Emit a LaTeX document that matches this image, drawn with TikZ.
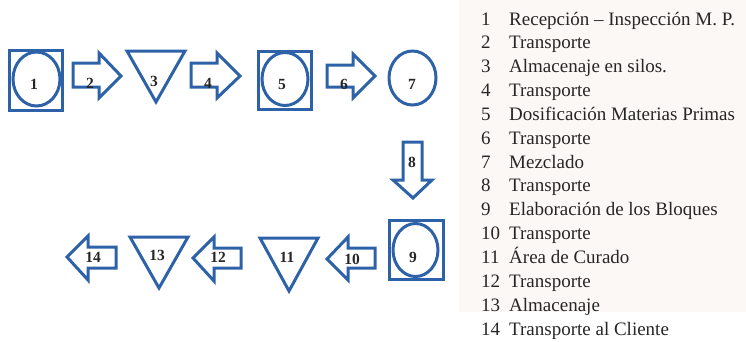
\documentclass[tikz,border=0pt]{standalone}
\usepackage{fontspec}
\setmainfont{Liberation Serif}
\definecolor{lineblue}{RGB}{46,98,168}
\definecolor{legendbg}{RGB}{252,248,245}
\tikzset{
  sym/.style={draw=lineblue, line width=3pt, line join=miter},
  lab/.style={font=\fontsize{15.5}{15.5}\selectfont\bfseries, inner sep=0pt, text=black!85},
  legnum/.style={anchor=base west, inner sep=0pt, font=\fontsize{19}{19}\selectfont, text=black!85},
  legtxt/.style={anchor=base west, inner sep=0pt, font=\fontsize{19}{19}\selectfont, text=black!85}
}
\begin{document}
\begin{tikzpicture}[x=1pt,y=-1pt]
\useasboundingbox (0,0) rectangle (746,341);
% legend background
\fill[legendbg] (459,0) rectangle (746,312);

% 1: square with circle
\draw[sym] (9,50) rectangle (62,110);
\draw[sym] (36.5,79) ellipse [x radius=23.5, y radius=27];
\node[lab] (l1) at (34,84) {1};
% 2: right arrow
\draw[sym] (73,63) -- (99,63) -- (99,53) -- (121,76) -- (99,98) -- (99,87) -- (73,87) -- cycle;
\node[lab] (l2) at (90,83) {2};
% 3: triangle
\draw[sym] (127,51) -- (185,51) -- (156,102) -- cycle;
\node[lab] (l3) at (154,81) {3};
% 4: right arrow
\draw[sym] (191,63) -- (217,63) -- (217,53) -- (240,76) -- (217,98) -- (217,87) -- (191,87) -- cycle;
\node[lab] (l4) at (208,83) {4};
% 5: square with circle
\draw[sym] (258,51) rectangle (311,109);
\draw[sym] (285,79) ellipse [x radius=23, y radius=26.5];
\node[lab] (l5) at (282,84) {5};
% 6: right arrow
\draw[sym] (327,65) -- (353,65) -- (353,54) -- (375,76) -- (353,98) -- (353,87) -- (327,87) -- cycle;
\node[lab] (l6) at (344,84) {6};
% 7: circle
\draw[sym] (412.5,78) ellipse [x radius=23.5, y radius=27];
\node[lab] (l7) at (412,84) {7};
% 8: down arrow
\draw[sym] (403,142) -- (422,142) -- (422,180) -- (432,180) -- (413,198) -- (393,180) -- (403,180) -- cycle;
\node[lab] (l8) at (412,162) {8};
% 9: square with circle
\draw[sym] (389,220) rectangle (443,279);
\draw[sym] (415.5,250) ellipse [x radius=22.5, y radius=26.5];
\node[lab] (l9) at (413,257) {9};
% 10: left arrow
\draw[sym] (375,248) -- (348,248) -- (348,237) -- (327,259) -- (348,280) -- (348,268) -- (375,268) -- cycle;
\node[lab] (l10) at (352,259) {10};
% 11: triangle
\draw[sym] (260,238) -- (318,238) -- (289,291) -- cycle;
\node[lab] (l11) at (287,257) {11};
% 12: left arrow
\draw[sym] (241,248) -- (214,248) -- (214,237) -- (193,258) -- (214,281) -- (214,268) -- (241,268) -- cycle;
\node[lab] (l12) at (218,257) {12};
% 13: triangle
\draw[sym] (130,237) -- (188,237) -- (159,288) -- cycle;
\node[lab] (l13) at (157,255) {13};
% 14: left arrow
\draw[sym] (116,247) -- (88,247) -- (88,236) -- (67,257) -- (88,280) -- (88,268) -- (116,268) -- cycle;
\node[lab] (l14) at (93,257) {14};

% legend
\foreach \i/\t [count=\k from 0] in {
  1/{Recepción – Inspección M. P.},
  2/Transporte,
  3/{Almacenaje en silos.},
  4/Transporte,
  5/{Dosificación Materias Primas},
  6/Transporte,
  7/Mezclado,
  8/Transporte,
  9/{Elaboración de los Bloques},
  10/Transporte,
  11/{Área de Curado},
  12/Transporte,
  13/Almacenaje,
  14/{Transporte al Cliente}}{
  \node[legnum] (n\i) at (481,{25+23.85*\k}) {\i};
  \node[legtxt] (t\i) at (509,{25+23.85*\k}) {\t};
}
\end{tikzpicture}
\end{document}
